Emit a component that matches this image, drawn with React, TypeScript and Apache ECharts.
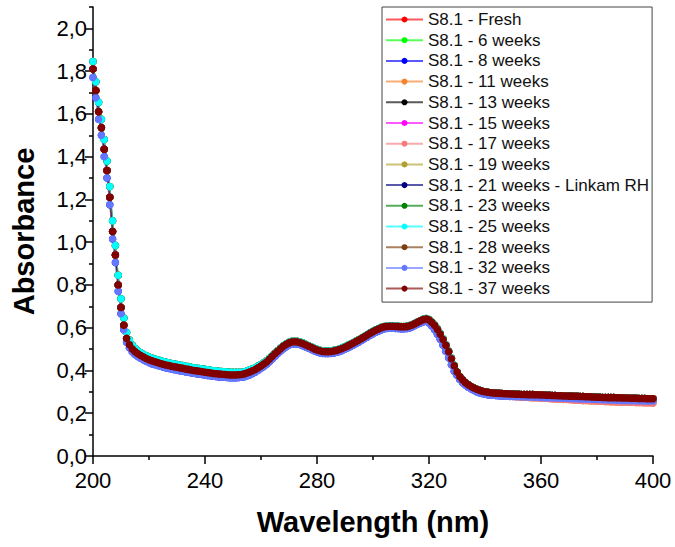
import React, { useEffect, useRef } from "react";
import * as echarts from "echarts";

// Wavelength grid (nm), 1 nm sampling 200..400
const wavelengths: number[] = Array.from({ length: 201 }, (_, i) => 200 + i);

// Absorbance 200-329 nm
const headMain = [
  1.81, 1.71, 1.61, 1.535, 1.435, 1.335, 1.21, 1.05, 0.94, 0.8,
  0.695, 0.612, 0.55, 0.52, 0.5, 0.488, 0.478, 0.47, 0.463, 0.456,
  0.45, 0.445, 0.441, 0.437, 0.433, 0.429, 0.426, 0.423, 0.42, 0.417,
  0.415, 0.412, 0.41, 0.407, 0.405, 0.402, 0.4, 0.398, 0.396, 0.394,
  0.392, 0.39, 0.388, 0.386, 0.385, 0.383, 0.382, 0.381, 0.38, 0.379,
  0.379, 0.379, 0.38, 0.381, 0.384, 0.388, 0.393, 0.399, 0.405, 0.413,
  0.421, 0.43, 0.44, 0.452, 0.465, 0.478, 0.49, 0.502, 0.513, 0.522,
  0.529, 0.533, 0.534, 0.533, 0.53, 0.525, 0.519, 0.513, 0.507, 0.501,
  0.496, 0.492, 0.489, 0.488, 0.488, 0.489, 0.491, 0.494, 0.498, 0.503,
  0.509, 0.515, 0.521, 0.528, 0.535, 0.542, 0.55, 0.558, 0.566, 0.574,
  0.581, 0.588, 0.594, 0.6, 0.604, 0.606, 0.607, 0.607, 0.606, 0.605,
  0.604, 0.604, 0.605, 0.608, 0.613, 0.619, 0.626, 0.632, 0.638, 0.641,
  0.636, 0.624, 0.61, 0.592, 0.57, 0.545, 0.518, 0.488, 0.455, 0.422,
];
const headHigh = [
  1.845, 1.75, 1.655, 1.575, 1.48, 1.38, 1.26, 1.1, 0.985, 0.845,
  0.735, 0.645, 0.578, 0.542, 0.519, 0.504, 0.492, 0.483, 0.476, 0.469,
  0.463, 0.458, 0.454, 0.45, 0.446, 0.442, 0.439, 0.436, 0.433, 0.43,
  0.428, 0.425, 0.423, 0.42, 0.418, 0.415, 0.413, 0.411, 0.409, 0.407,
  0.405, 0.403, 0.401, 0.399, 0.398, 0.396, 0.395, 0.394, 0.393, 0.392,
  0.391, 0.391, 0.391, 0.392, 0.394, 0.398, 0.403, 0.408, 0.414, 0.421,
  0.428, 0.436, 0.446, 0.457, 0.469, 0.481, 0.493, 0.505, 0.516, 0.525,
  0.532, 0.536, 0.537, 0.536, 0.533, 0.528, 0.522, 0.516, 0.51, 0.504,
  0.499, 0.495, 0.492, 0.491, 0.491, 0.492, 0.494, 0.497, 0.501, 0.506,
  0.512, 0.518, 0.524, 0.531, 0.538, 0.545, 0.552, 0.56, 0.568, 0.576,
  0.583, 0.59, 0.596, 0.602, 0.606, 0.608, 0.609, 0.609, 0.608, 0.607,
  0.606, 0.606, 0.607, 0.61, 0.615, 0.621, 0.628, 0.634, 0.64, 0.643,
  0.638, 0.627, 0.613, 0.595, 0.573, 0.548, 0.521, 0.491, 0.458, 0.425,
];
const headLow = [
  1.77, 1.675, 1.575, 1.5, 1.4, 1.3, 1.175, 1.015, 0.905, 0.77,
  0.665, 0.59, 0.532, 0.506, 0.487, 0.475, 0.465, 0.457, 0.45, 0.443,
  0.437, 0.432, 0.428, 0.424, 0.42, 0.416, 0.413, 0.41, 0.407, 0.404,
  0.402, 0.399, 0.397, 0.394, 0.392, 0.389, 0.387, 0.385, 0.383, 0.381,
  0.379, 0.377, 0.375, 0.373, 0.372, 0.37, 0.369, 0.368, 0.367, 0.366,
  0.366, 0.366, 0.367, 0.368, 0.371, 0.375, 0.38, 0.386, 0.393, 0.401,
  0.41, 0.419, 0.429, 0.441, 0.454, 0.467, 0.479, 0.491, 0.502, 0.511,
  0.519, 0.523, 0.525, 0.524, 0.521, 0.516, 0.51, 0.504, 0.498, 0.492,
  0.487, 0.483, 0.48, 0.479, 0.479, 0.48, 0.482, 0.485, 0.489, 0.494,
  0.5, 0.506, 0.512, 0.519, 0.526, 0.533, 0.541, 0.549, 0.557, 0.565,
  0.572, 0.579, 0.585, 0.591, 0.595, 0.597, 0.598, 0.598, 0.597, 0.596,
  0.595, 0.595, 0.596, 0.599, 0.604, 0.61, 0.617, 0.623, 0.628, 0.63,
  0.622, 0.608, 0.59, 0.57, 0.546, 0.519, 0.49, 0.459, 0.427, 0.396,
];

// Absorbance 330-400 nm
const tailMain = [
  0.393, 0.371, 0.355, 0.343, 0.333, 0.325, 0.318, 0.312, 0.307, 0.303,
  0.3, 0.298, 0.296, 0.295, 0.294, 0.293, 0.292, 0.291, 0.291, 0.29,
  0.29, 0.289, 0.289, 0.288, 0.288, 0.287, 0.287, 0.287, 0.286, 0.286,
  0.285, 0.285, 0.284, 0.284, 0.283, 0.283, 0.282, 0.282, 0.281, 0.281,
  0.28, 0.28, 0.279, 0.279, 0.278, 0.278, 0.277, 0.277, 0.276, 0.276,
  0.275, 0.275, 0.274, 0.274, 0.273, 0.273, 0.273, 0.272, 0.272, 0.271,
  0.271, 0.271, 0.27, 0.27, 0.27, 0.269, 0.269, 0.269, 0.268, 0.268,
  0.268,
];
const tailLow = [
  0.378, 0.358, 0.343, 0.332, 0.322, 0.314, 0.307, 0.301, 0.296, 0.292,
  0.289, 0.287, 0.285, 0.284, 0.283, 0.282, 0.281, 0.28, 0.28, 0.279,
  0.279, 0.278, 0.278, 0.277, 0.277, 0.276, 0.276, 0.276, 0.275, 0.275,
  0.274, 0.274, 0.273, 0.273, 0.272, 0.272, 0.271, 0.271, 0.27, 0.27,
  0.269, 0.269, 0.268, 0.268, 0.267, 0.267, 0.266, 0.266, 0.265, 0.265,
  0.264, 0.264, 0.263, 0.263, 0.262, 0.262, 0.262, 0.261, 0.261, 0.26,
  0.26, 0.26, 0.259, 0.259, 0.259, 0.258, 0.258, 0.258, 0.257, 0.257,
  0.257,
];
const tailFaded = [
  0.388, 0.366, 0.35, 0.337, 0.327, 0.318, 0.311, 0.305, 0.3, 0.296,
  0.293, 0.29, 0.288, 0.286, 0.285, 0.284, 0.283, 0.282, 0.281, 0.28,
  0.279, 0.278, 0.277, 0.277, 0.276, 0.275, 0.274, 0.273, 0.273, 0.272,
  0.271, 0.27, 0.27, 0.269, 0.268, 0.267, 0.267, 0.266, 0.265, 0.265,
  0.264, 0.263, 0.262, 0.262, 0.261, 0.26, 0.26, 0.259, 0.258, 0.258,
  0.257, 0.257, 0.256, 0.255, 0.255, 0.254, 0.254, 0.253, 0.253, 0.252,
  0.252, 0.252, 0.251, 0.251, 0.25, 0.25, 0.25, 0.249, 0.249, 0.249,
  0.248,
];

const curveMain = headMain.concat(tailMain);
const curveHigh = headHigh.concat(tailMain);
const curveLow = headLow.concat(tailLow);
const curveFaded = headMain.concat(tailFaded);

const seriesNames = [
  "S8.1 - Fresh",
  "S8.1 - 6 weeks",
  "S8.1 - 8 weeks",
  "S8.1 - 11 weeks",
  "S8.1 - 13 weeks",
  "S8.1 - 15 weeks",
  "S8.1 - 17 weeks",
  "S8.1 - 19 weeks",
  "S8.1 - 21 weeks - Linkam RH",
  "S8.1 - 23 weeks",
  "S8.1 - 25 weeks",
  "S8.1 - 28 weeks",
  "S8.1 - 32 weeks",
  "S8.1 - 37 weeks",
];
const seriesCurves = [
  curveMain, curveHigh, curveLow, curveFaded, curveMain, curveHigh, curveFaded,
  curveHigh, curveMain, curveHigh, curveHigh, curveMain, curveLow, curveMain,
];
const seriesColors = [
  "#FF0000", "#00FF00", "#0000FF", "#F5822A", "#000000", "#FF00FF", "#F87C7C",
  "#B0A030", "#000080", "#008000", "#00FFFF", "#7B3F10", "#6478FF", "#800000",
];

const yMajor = [0, 0.2, 0.4, 0.6, 0.8, 1.0, 1.2, 1.4, 1.6, 1.8, 2.0];
const yMinor = [0.1, 0.3, 0.5, 0.7, 0.9, 1.1, 1.3, 1.5, 1.7, 1.9, 2.1];

const FONT = 'Arial, "Liberation Sans", sans-serif';

export default function App() {
  const ref = useRef<HTMLDivElement>(null);

  useEffect(() => {
    document.body.style.margin = "0";
    if (!ref.current) return;
    const chart = echarts.init(ref.current, undefined, { renderer: "svg" });
    const axisColor = "#000";
    const option: any = {
      animation: false,
      backgroundColor: "#fff",
      textStyle: { fontFamily: FONT },
      grid: { left: 93, right: 22, top: 7, bottom: 91, containLabel: false },
      legend: {
        orient: "vertical",
        left: 382,
        top: 7,
        padding: [4, 3, 5, 3],
        itemWidth: 37,
        itemHeight: 7.5,
        itemGap: 3.7,
        borderColor: "#444",
        borderWidth: 1,
        backgroundColor: "#fff",
        textStyle: { fontSize: 17, lineHeight: 17, color: "#111", fontFamily: FONT },
        data: seriesNames,
      },
      xAxis: {
        type: "value",
        min: 200,
        max: 400,
        interval: 40,
        name: "Wavelength (nm)",
        nameLocation: "middle",
        nameGap: 51,
        nameTextStyle: { fontSize: 29, fontWeight: "bold", color: "#000", fontFamily: FONT },
        axisLine: { show: true, onZero: false, lineStyle: { color: axisColor, width: 1.5 } },
        axisTick: { show: true, inside: false, length: 8, lineStyle: { color: axisColor, width: 1.5 } },
        minorTick: { show: true, splitNumber: 2, length: 4, lineStyle: { color: axisColor, width: 1.5 } },
        axisLabel: { fontSize: 22, color: "#000", margin: 13, fontFamily: FONT },
        splitLine: { show: false },
        minorSplitLine: { show: false },
      },
      yAxis: [
        {
          type: "value",
          min: 0,
          max: 2.1,
          position: "left",
          name: "Absorbance",
          nameLocation: "middle",
          nameGap: 55,
          nameRotate: 90,
          nameTextStyle: { fontSize: 29, fontWeight: "bold", color: "#000", fontFamily: FONT },
          axisLine: { show: true, onZero: false, lineStyle: { color: axisColor, width: 1.5 } },
          axisTick: { show: true, inside: false, length: 8, customValues: yMajor, lineStyle: { color: axisColor, width: 1.5 } },
          axisLabel: {
            fontSize: 22,
            color: "#000",
            margin: 6,
            fontFamily: FONT,
            customValues: yMajor,
            formatter: (v: number) => v.toFixed(1).replace(".", ","),
          },
          splitLine: { show: false },
        },
        {
          type: "value",
          min: 0,
          max: 2.1,
          position: "left",
          axisLine: { show: false },
          axisTick: { show: true, inside: false, length: 4, customValues: yMinor, lineStyle: { color: axisColor, width: 1.5 } },
          axisLabel: { show: false },
          splitLine: { show: false },
        },
      ],
      series: seriesNames.map((name, k) => ({
        name,
        type: "line",
        xAxisIndex: 0,
        yAxisIndex: 0,
        data: wavelengths.map((w, i) => [w, seriesCurves[k][i]]),
        symbol: "circle",
        symbolSize: 7.5,
        showSymbol: true,
        showAllSymbol: true,
        color: seriesColors[k],
        itemStyle: { color: seriesColors[k] },
        lineStyle: { color: seriesColors[k], width: 1, opacity: 0.65 },
        emphasis: { disabled: true },
        silent: true,
      })),
    };
    chart.setOption(option);
    return () => chart.dispose();
  }, []);

  return <div ref={ref} style={{ width: 675, height: 547 }} />;
}
